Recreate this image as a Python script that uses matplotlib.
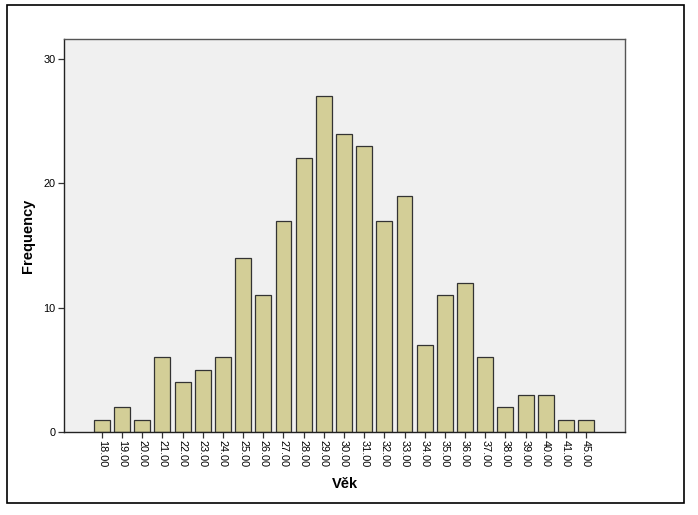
import matplotlib
matplotlib.use("Agg")
import matplotlib.pyplot as plt
from matplotlib.patches import Rectangle

plt.rcParams['font.family'] = ['Liberation Sans', 'DejaVu Sans']

ages = ['18.00', '19.00', '20.00', '21.00', '22.00', '23.00', '24.00', '25.00',
        '26.00', '27.00', '28.00', '29.00', '30.00', '31.00', '32.00', '33.00',
        '34.00', '35.00', '36.00', '37.00', '38.00', '39.00', '40.00', '41.00',
        '45.00']
counts = [1, 2, 1, 6, 4, 5, 6, 14, 11, 17, 22, 27, 24, 23, 17, 19,
          7, 11, 12, 6, 2, 3, 3, 1, 1]
y_ticks = [0, 10, 20, 30]

fig = plt.figure(figsize=(6.98, 5.15), dpi=100)
ax = fig.add_axes([64 / 698, 1 - 432 / 515, (625 - 64) / 698, (432 - 39) / 515])

x = range(len(ages))
ax.bar(x, counts, width=0.79, color='#D3CE97', edgecolor='#333333', linewidth=0.9, zorder=2)

ax.set_facecolor('#F0F0F0')
ax.set_xlim(-1.88, len(ages) - 1 + 1.93)
ax.set_ylim(0, 31.6)
ax.set_xticks(list(x))
ax.set_xticklabels(ages, rotation=-90, fontsize=7.8)
ax.set_yticks(y_ticks)
ax.set_yticklabels([str(t) for t in y_ticks], fontsize=7.8)
ax.tick_params(axis='both', direction='out', length=4, width=0.9, color='#333333', pad=2)

for s in ax.spines.values():
    s.set_color('#555555')
    s.set_linewidth(1.0)
ax.spines['left'].set_color('#222222')
ax.spines['bottom'].set_color('#222222')

ax.set_ylabel('Frequency', fontsize=10.5, fontweight='bold', labelpad=6)
ax.set_xlabel('Věk', fontsize=10.5, fontweight='bold', labelpad=7)

fig.patches.append(Rectangle((7 / 698, 1 - 503 / 515), (684 - 7) / 698, (503 - 5) / 515,
                             transform=fig.transFigure, fill=False,
                             edgecolor='black', linewidth=1.2))

fig.savefig('out.png', dpi=100)
